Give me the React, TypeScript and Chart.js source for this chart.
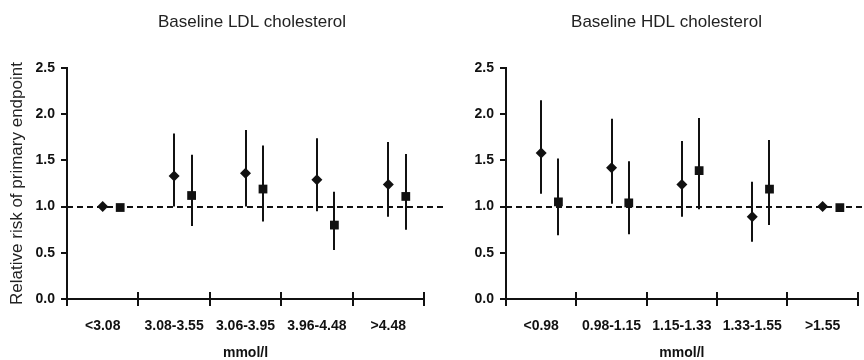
import React, { useEffect, useRef } from 'react';
import { Chart, registerables } from 'chart.js';

Chart.register(...registerables);

const FONT = '"Liberation Sans", Arial, Helvetica, sans-serif';
const INK = '#111111';

// ---------- data ----------
const ldlTitle = 'Baseline LDL cholesterol';
const ldlLabels = ['<3.08', '3.08-3.55', '3.06-3.95', '3.96-4.48', '>4.48'];
const ldlDiamond = [1.0, 1.33, 1.36, 1.29, 1.24];
const ldlDiamondLow = [1.0, 1.0, 1.0, 0.95, 0.89];
const ldlDiamondHigh = [1.0, 1.79, 1.83, 1.74, 1.7];
const ldlSquare = [0.99, 1.12, 1.19, 0.8, 1.11];
const ldlSquareLow = [0.99, 0.79, 0.84, 0.53, 0.75];
const ldlSquareHigh = [0.99, 1.56, 1.66, 1.16, 1.57];

const hdlTitle = 'Baseline HDL cholesterol';
const hdlLabels = ['<0.98', '0.98-1.15', '1.15-1.33', '1.33-1.55', '>1.55'];
const hdlDiamond = [1.58, 1.42, 1.24, 0.89, 1.0];
const hdlDiamondLow = [1.14, 1.03, 0.89, 0.62, 1.0];
const hdlDiamondHigh = [2.15, 1.95, 1.71, 1.27, 1.0];
const hdlSquare = [1.05, 1.04, 1.39, 1.19, 0.99];
const hdlSquareLow = [0.69, 0.7, 0.97, 0.8, 0.99];
const hdlSquareHigh = [1.52, 1.49, 1.96, 1.72, 0.99];

const yTicks = [0, 0.5, 1.0, 1.5, 2.0, 2.5];
const yAxisTitle = 'Relative risk of primary endpoint';
const xAxisTitle = 'mmol/l';
const referenceValue = 1.0;

const SQUARE_OFFSET = 0.245;

type Panel = {
  title: string;
  labels: string[];
  dMid: number[];
  dLow: number[];
  dHigh: number[];
  sMid: number[];
  sLow: number[];
  sHigh: number[];
  yTitle: string | null;
  yWidth: number;
  padRight: number;
  padAxis: number;
};

const overlayPlugin = {
  id: 'overlay',
  beforeDatasetsDraw(chart: any, _args: any, opts: any) {
    const p: Panel = opts.panel;
    const { ctx, chartArea } = chart;
    const x = chart.scales.x;
    const y = chart.scales.y;
    ctx.save();
    ctx.strokeStyle = INK;
    ctx.lineWidth = 2;
    ctx.lineCap = 'butt';
    // reference dashed line
    const yr = Math.round(y.getPixelForValue(referenceValue));
    ctx.setLineDash([6, 4]);
    ctx.beginPath();
    ctx.moveTo(chartArea.left, yr);
    ctx.lineTo(chartArea.right + 19, yr);
    ctx.stroke();
    ctx.setLineDash([]);
    // error bars
    const bar = (xv: number, lo: number, hi: number) => {
      if (hi - lo < 1e-6) return;
      const px = Math.round(x.getPixelForValue(xv));
      ctx.beginPath();
      ctx.moveTo(px, y.getPixelForValue(lo));
      ctx.lineTo(px, y.getPixelForValue(hi));
      ctx.stroke();
    };
    p.labels.forEach((_l, i) => {
      bar(i + 0.5, p.dLow[i], p.dHigh[i]);
      bar(i + 0.5 + SQUARE_OFFSET, p.sLow[i], p.sHigh[i]);
    });
    // x tick marks crossing the axis
    const yb = Math.round(y.getPixelForValue(0));
    for (let i = 0; i <= p.labels.length; i++) {
      const px = Math.round(x.getPixelForValue(i));
      ctx.beginPath();
      ctx.moveTo(px, yb - 7);
      ctx.lineTo(px, yb + 7);
      ctx.stroke();
    }
    ctx.restore();
  },
};

function buildConfig(p: Panel): any {
  const scales: any = {
    x: {
      type: 'linear',
      min: 0,
      max: p.labels.length,
      afterBuildTicks: (s: any) => {
        s.ticks = p.labels.map((_l, i) => ({ value: i + 0.5 }));
      },
      afterFit: (s: any) => {
        s.height = 61;
      },
      grid: { display: false, drawTicks: false },
      border: { display: true, color: INK, width: 2 },
      ticks: {
        autoSkip: false,
        maxRotation: 0,
        padding: 19,
        color: INK,
        font: { family: FONT, size: 14, weight: 'bold' },
        callback: (_v: any, i: number) => p.labels[i],
      },
      title: {
        display: true,
        text: xAxisTitle,
        color: INK,
        font: { family: FONT, size: 14, weight: 'bold', lineHeight: 1 },
        padding: { top: 0, bottom: 0 },
      },
    },
    y: {
      type: 'linear',
      position: 'left',
      min: 0,
      max: 2.5,
      afterBuildTicks: (s: any) => {
        s.ticks = yTicks.map((v) => ({ value: v }));
      },
      afterFit: (s: any) => {
        s.width = p.yWidth;
      },
      grid: { display: true, drawOnChartArea: false, drawTicks: true, tickLength: 6, color: INK, lineWidth: 2 },
      border: { display: true, color: INK, width: 2 },
      ticks: {
        padding: 6,
        color: INK,
        font: { family: FONT, size: 14, weight: 'bold' },
        callback: (v: any) => Number(v).toFixed(1),
      },
      title: {
        display: !!p.yTitle,
        text: p.yTitle || '',
        color: '#222222',
        font: { family: FONT, size: 17, weight: 'normal' },
        padding: { top: 7, bottom: 0 },
      },
    },
  };
  if (p.padAxis > 0) {
    scales.pad = {
      type: 'linear',
      position: 'right',
      display: true,
      afterFit: (s: any) => {
        s.width = p.padAxis;
      },
      grid: { display: false, drawTicks: false },
      border: { display: false },
      ticks: { display: false },
    };
  }
  return {
    type: 'scatter',
    data: {
      datasets: [
        {
          data: p.dMid.map((v, i) => ({ x: i + 0.5, y: v })),
          pointStyle: 'rectRot',
          pointRadius: 5.5,
          backgroundColor: INK,
          borderWidth: 0,
        },
        {
          data: p.sMid.map((v, i) => ({ x: i + 0.5 + SQUARE_OFFSET, y: v })),
          pointStyle: 'rect',
          pointRadius: 6.2,
          backgroundColor: INK,
          borderWidth: 0,
        },
      ],
    },
    options: {
      responsive: false,
      animation: false,
      devicePixelRatio: 1,
      layout: { padding: { top: 0, left: 0, right: p.padRight, bottom: 0 } },
      scales,
      plugins: {
        legend: { display: false },
        tooltip: { enabled: false },
        title: {
          display: true,
          text: p.title,
          color: '#222222',
          font: { family: FONT, size: 17, weight: 'normal', lineHeight: 1.2 },
          padding: { top: 12, bottom: 35.6 },
        },
        overlay: { panel: p },
      },
    },
    plugins: [overlayPlugin],
  };
}

function PanelChart({ panel, left, width }: { panel: Panel; left: number; width: number }) {
  const ref = useRef<HTMLCanvasElement | null>(null);
  useEffect(() => {
    if (!ref.current) return;
    const chart = new Chart(ref.current, buildConfig(panel));
    return () => chart.destroy();
  }, [panel]);
  return (
    <canvas
      ref={ref}
      width={width}
      height={360}
      style={{ position: 'absolute', left, top: 0, width, height: 360, display: 'block' }}
    />
  );
}

const ldlPanel: Panel = {
  title: ldlTitle,
  labels: ldlLabels,
  dMid: ldlDiamond,
  dLow: ldlDiamondLow,
  dHigh: ldlDiamondHigh,
  sMid: ldlSquare,
  sLow: ldlSquareLow,
  sHigh: ldlSquareHigh,
  yTitle: yAxisTitle,
  yWidth: 67,
  padRight: 0,
  padAxis: 80,
};

const hdlPanel: Panel = {
  title: hdlTitle,
  labels: hdlLabels,
  dMid: hdlDiamond,
  dLow: hdlDiamondLow,
  dHigh: hdlDiamondHigh,
  sMid: hdlSquare,
  sLow: hdlSquareLow,
  sHigh: hdlSquareHigh,
  yTitle: null,
  yWidth: 36,
  padRight: 1,
  padAxis: 0,
};

export default function App() {
  return (
    <div style={{ position: 'fixed', left: 0, top: 0, width: 864, height: 360, background: '#ffffff', overflow: 'hidden' }}>
      <PanelChart panel={ldlPanel} left={0} width={504} />
      <PanelChart panel={hdlPanel} left={470} width={394} />
    </div>
  );
}
